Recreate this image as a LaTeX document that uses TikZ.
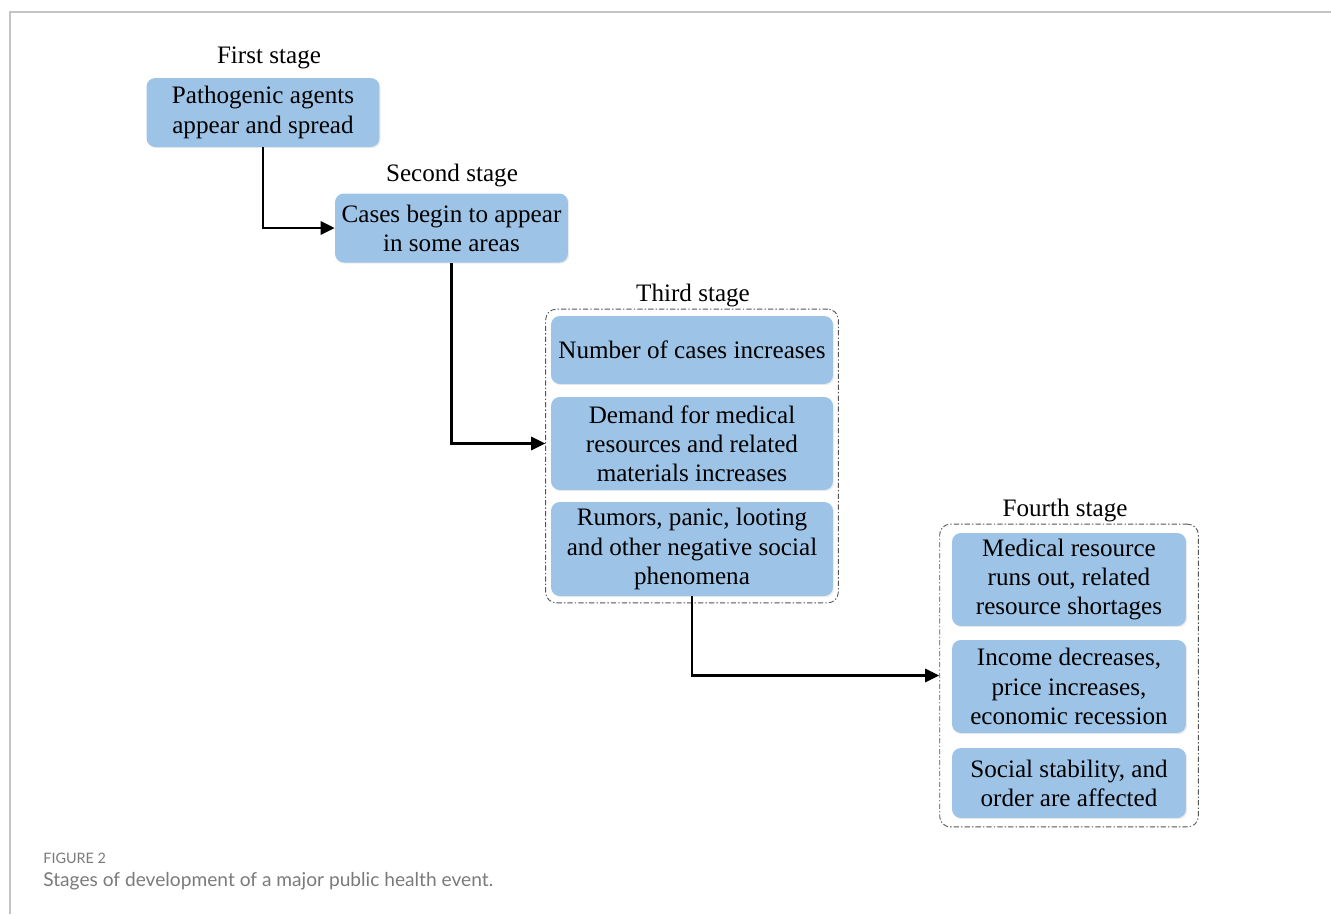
\documentclass[tikz,border=0pt]{standalone}
\usepackage{fontspec}
\setmainfont{Liberation Serif}
\newfontfamily\capfont{Lato}
\usetikzlibrary{calc, shapes, shadows, fit, arrows.meta}

\definecolor{boxblue}{HTML}{9DC3E6}
\definecolor{framegray}{HTML}{C4C4C4}
\definecolor{capgray}{HTML}{7A7A7A}
\definecolor{grpline}{HTML}{555555}

\begin{document}
\begin{tikzpicture}[x=0.02cm, y=-0.02cm,
        stagebox/.style = {shape=rectangle, rounded corners=5pt, fill=boxblue,
            draw=none, align=center, inner sep=0pt,
            font=\rmfamily\fontsize{14.3}{16.6}\selectfont,
            drop shadow={opacity=0.15, shadow xshift=0.7pt, shadow yshift=-0.7pt}},
        stagelbl/.style = {align=center, inner sep=0pt, font=\rmfamily\fontsize{14.3}{16.6}\selectfont},
        grpbox/.style = {shape=rectangle, rounded corners=6pt, draw=grpline, line width=0.5pt,
            dash pattern=on 3pt off 1.2pt on 0.8pt off 1.2pt, inner xsep=0.1cm, inner ysep=0.13cm},
        flow/.style = {line width=1.5pt, -{Triangle[length=8pt, width=7.5pt]}},
        caption/.style = {anchor=west, inner sep=0pt, text=capgray}]
        \useasboundingbox (0,0) rectangle (1331,914);
        \draw[framegray, line width=1.1pt] (1331,12) -- (10,12) -- (10,914);

        % first and second stage
        \node [stagelbl] (lbl1) at (269,58) {First stage};
        \node [stagebox, minimum width=4.66cm, minimum height=1.38cm] (agents) at (263,112.5)
            {Pathogenic agents\\ appear and spread};
        \node [stagelbl] (lbl2) at (452,175) {Second stage};
        \node [stagebox, minimum width=4.66cm, minimum height=1.38cm] (cases) at (451.5,228)
            {Cases begin to appear\\ in some areas};

        % third stage
        \node [stagebox, minimum width=5.64cm, minimum height=1.36cm] (numcases) at (692,350)
            {Number of cases increases};
        \node [stagebox, minimum width=5.64cm, minimum height=1.86cm] (demand) at (692,443.5)
            {Demand for medical\\ resources and related\\ materials increases};
        \node [stagebox, minimum width=5.64cm, minimum height=1.88cm] (rumors) at (692,549)
            {Rumors, panic, looting\\ and other negative social\\ phenomena};
        \node [grpbox, fit=(numcases)(rumors)] (grp3) {};
        \node [stagelbl] (lbl3) at (693,295) {Third stage};

        % fourth stage
        \node [stagebox, minimum width=4.68cm, minimum height=1.86cm] (runsout) at (1069,579.5)
            {Medical resource\\ runs out, related\\ resource shortages};
        \node [stagebox, minimum width=4.68cm, minimum height=1.86cm] (income) at (1069,686.5)
            {Income decreases,\\ price increases,\\ economic recession};
        \node [stagebox, minimum width=4.68cm, minimum height=1.40cm] (order) at (1069,783)
            {Social stability, and\\ order are affected};
        \node [grpbox, inner xsep=0.24cm, inner ysep=0.17cm, fit=(runsout)(order)] (grp4) {};
        \node [stagelbl] (lbl4) at (1065,510) {Fourth stage};

        % connectors
        \draw [flow] (agents.south) |- (cases.west);
        \draw [flow] (cases.south) |- (demand.west -| grp3.west);
        \draw [flow] (rumors.south) |- (grp4.west);

        % caption
        \node [caption, font=\capfont\fontsize{8.2}{10}\selectfont] (figno) at (43,858) {FIGURE 2};
        \node [caption, font=\capfont\fontsize{10.9}{12}\selectfont] (figtext) at (43,881)
            {Stages of development of a major public health event.};
\end{tikzpicture}
\end{document}
